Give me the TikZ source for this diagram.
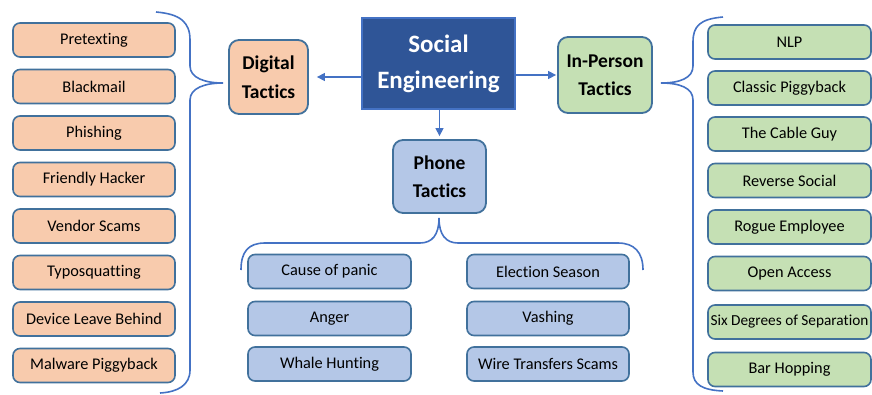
\documentclass[tikz,border=0pt]{standalone}
\usepackage{fontspec}
\setmainfont{Carlito}[Ligatures={NoCommon}]
\usetikzlibrary{arrows.meta}

\definecolor{peach}{HTML}{F8CBAD}
\definecolor{sage}{HTML}{C5E0B4}
\definecolor{sky}{HTML}{B4C7E7}
\definecolor{navy}{HTML}{2F5597}
\definecolor{edge}{HTML}{41719C}
\definecolor{bracecol}{HTML}{4472C4}

\tikzset{
  item/.style={draw=edge,line width=1.6pt,rounded corners=7pt,minimum width=162pt,
    minimum height=34pt,inner sep=0pt,font=\fontsize{16.3}{18}\selectfont},
  tactic/.style={draw=edge,line width=1.8pt,rounded corners=10pt,inner sep=0pt,
    align=center,font=\bfseries\fontsize{19.5}{28.5}\selectfont},
  hub/.style={fill=navy,draw=bracecol,line width=1.5pt,inner sep=0pt,text=white,
    align=center,minimum width=153pt,minimum height=91pt,font=\bfseries\fontsize{25}{36}\selectfont},
  curly/.style={draw=bracecol,line width=1.6pt},
  arr/.style={draw=bracecol,line width=1.3pt,-{Triangle[length=8pt,width=8pt]}},
}

\begin{document}
\begin{tikzpicture}[x=1pt,y=-1pt]
\useasboundingbox (0,0) rectangle (872,394);

\node[hub] (se) at (438.5,63.5) {Social\\Engineering};
\node[tactic,fill=peach,minimum width=79pt,minimum height=74pt] (dig) at (268.5,77) {Digital\\Tactics};
\node[tactic,fill=sage,minimum width=94pt,minimum height=76pt] (pers) at (605,75) {In-Person\\Tactics};
\node[tactic,fill=sky,minimum width=93pt,minimum height=73pt] (phone) at (439.5,176.5) {Phone\\Tactics};

\draw[arr,shorten >=8pt] (se.west |- dig.east) -- (dig.east);
\draw[arr,shorten >=1pt] (se.east |- pers.west) -- (pers.west);
\draw[arr,shorten >=3pt] (se.south -| phone.north) -- (phone.north);

% digital
\node[item,fill=peach] (pretext) at (94,40) {Pretexting};
\node[item,fill=peach] (blackmail) at (94,86.5) {Blackmail};
\node[item,fill=peach] (phishing) at (94,133) {Phishing};
\node[item,fill=peach] (hacker) at (94,179.5) {Friendly Hacker};
\node[item,fill=peach] (vendor) at (94,226) {Vendor Scams};
\node[item,fill=peach] (typo) at (94,272.5) {Typosquatting};
\node[item,fill=peach] (leave) at (94,319) {Device Leave Behind};
\node[item,fill=peach] (malware) at (94,365.5) {Malware Piggyback};

% in person
\node[item,fill=sage,minimum width=163pt] (nlp) at (789.5,42) {NLP};
\node[item,fill=sage,minimum width=163pt] (classic) at (789.5,88) {Classic Piggyback};
\node[item,fill=sage,minimum width=163pt] (cable) at (789.5,134) {The Cable Guy};
\node[item,fill=sage,minimum width=163pt] (reverse) at (789.5,180.5) {Reverse Social};
\node[item,fill=sage,minimum width=163pt] (rogue) at (789.5,227) {Rogue Employee};
\node[item,fill=sage,minimum width=163pt] (open) at (789.5,273.5) {Open Access};
\node[item,fill=sage,minimum width=163pt,font=\fontsize{15.3}{18}\selectfont] (sixdeg) at (789.5,322) {Six Degrees of Separation};
\node[item,fill=sage,minimum width=163pt] (barhop) at (789.5,369.5) {Bar Hopping};

% phone
\node[item,fill=sky,minimum width=163pt] (panic) at (329.5,271.5) {Cause of panic};
\node[item,fill=sky,minimum width=163pt] (anger) at (329.5,318.5) {Anger};
\node[item,fill=sky,minimum width=163pt] (whale) at (329.5,364) {Whale Hunting};
\node[item,fill=sky] (election) at (548,271.5) {Election Season};
\node[item,fill=sky] (vashing) at (548,318.5) {Vashing};
\node[item,fill=sky] (wire) at (548,364) {Wire Transfers Scams};

% braces
\draw[curly] (156,12) .. controls (180,14) and (190,22) .. (190,40) -- (190,66)
  .. controls (190,78) and (205,83) .. (223,83) .. controls (205,83) and (190,88) .. (190,100)
  -- (190,370) .. controls (190,385) and (178,392) .. (160,393);
\draw[curly] (723,17) .. controls (700,19) and (693,26) .. (693,42) -- (693,66)
  .. controls (693,78) and (680,83) .. (661,83) .. controls (680,83) and (693,88) .. (693,100)
  -- (693,372) .. controls (693,385) and (703,390) .. (723,391);
\draw[curly] (241,270) .. controls (241,252) and (248,243) .. (265,243) -- (420,243)
  .. controls (432,243) and (439,235) .. (439,218) .. controls (439,235) and (446,243) .. (458,243)
  -- (618,243) .. controls (634,243) and (643,252) .. (643,270);
\end{tikzpicture}
\end{document}
